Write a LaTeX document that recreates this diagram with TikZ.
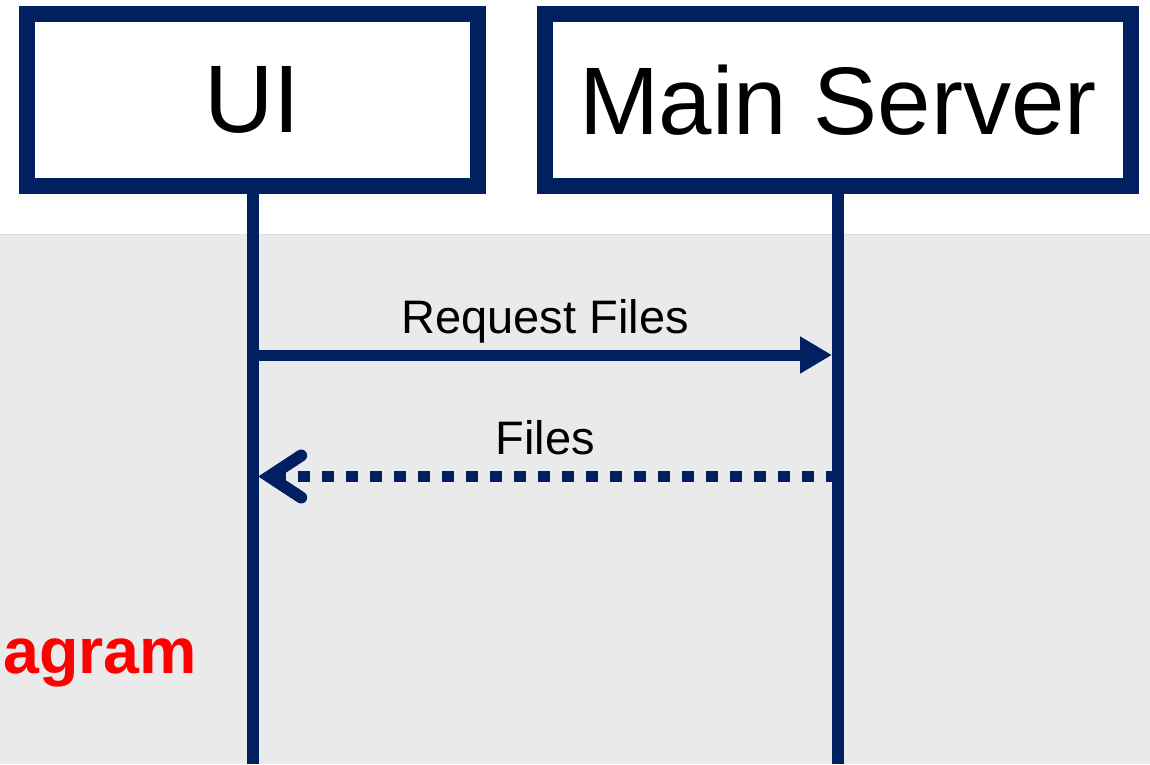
\documentclass[tikz,border=0pt]{standalone}
\usepackage{fontspec}
\setmainfont{Liberation Sans}
\usetikzlibrary{arrows.meta}
\definecolor{navy}{HTML}{002060}
\definecolor{bgray}{HTML}{EAEAEA}
\definecolor{bline}{HTML}{DDDDDD}
\begin{document}
\begin{tikzpicture}[x=1pt,y=-1pt,
  actor/.style={draw=navy, line width=16pt, fill=white, inner sep=0pt, font=\fontsize{96}{110}\selectfont},
  lifeline/.style={draw=navy, line width=12pt},
  msg/.style={draw=navy, line width=11pt},
  lbl/.style={font=\fontsize{47}{56}\selectfont, inner sep=0pt, anchor=base}]
\useasboundingbox (0,0) rectangle (1150,764);
\fill[bgray] (0,234) rectangle (1150,764);
\draw[bline, line width=1pt] (0,234.5) -- (1150,234.5);
\node[actor, minimum width=451pt, minimum height=172pt] (ui) at (252.5,100) {UI};
\node[actor, minimum width=585.5pt, minimum height=172pt] (srv) at (837.75,100) {Main Server};
\coordinate (bot) at (0,764);
\coordinate (y1) at (0,355);
\coordinate (y2) at (0,476.5);
\draw[lifeline] (ui.south) -- (ui.south |- bot);
\draw[lifeline] (srv.south) -- (srv.south |- bot);
\draw[msg, -{Triangle[length=32pt,width=35pt]}, shorten >=5.75pt] (ui.south |- y1) -- (srv.south |- y1);
\node[lbl] (l1) at (545.1,333) {Request Files};
\draw[msg, dash pattern=on 12pt off 12pt, -{Straight Barb[length=32pt,width=42pt,line width=12pt,line cap=round,line join=miter]}, shorten >=5.75pt] (srv.south |- y2) -- (ui.south |- y2);
\node[lbl] (l2) at (545.1,454) {Files};
\node[font=\fontsize{64.5}{78}\selectfont\bfseries, text=red, anchor=base east, inner sep=0pt] (title) at (197,673) {agram};
\end{tikzpicture}
\end{document}
